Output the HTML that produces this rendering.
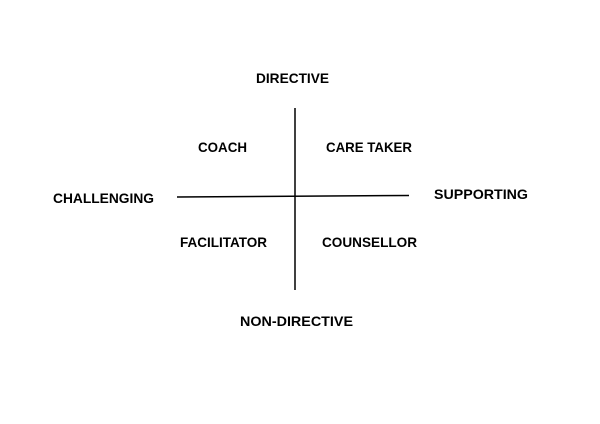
<!DOCTYPE html>
<html><head><style>html,body{margin:0;padding:0;background:#fff;width:600px;height:424px;overflow:hidden}</style></head>
<body>
<svg width="600" height="424" xmlns="http://www.w3.org/2000/svg" font-family="Liberation Sans, sans-serif" font-weight="bold" font-size="14" fill="#000">
<line x1="295" y1="108" x2="295" y2="290" stroke="#000" stroke-width="1.5"/>
<line x1="177" y1="197" x2="409" y2="195.5" stroke="#000" stroke-width="1.5"/>
<text x="256" y="83" textLength="73" lengthAdjust="spacingAndGlyphs">DIRECTIVE</text>
<text x="198" y="152" textLength="49" lengthAdjust="spacingAndGlyphs">COACH</text>
<text x="326" y="152" textLength="86" lengthAdjust="spacingAndGlyphs">CARE TAKER</text>
<text x="53" y="203" textLength="101" lengthAdjust="spacingAndGlyphs">CHALLENGING</text>
<text x="434" y="199" textLength="94" lengthAdjust="spacingAndGlyphs">SUPPORTING</text>
<text x="180" y="247" textLength="87" lengthAdjust="spacingAndGlyphs">FACILITATOR</text>
<text x="322" y="247" textLength="95" lengthAdjust="spacingAndGlyphs">COUNSELLOR</text>
<text x="240" y="326" textLength="113" lengthAdjust="spacingAndGlyphs">NON-DIRECTIVE</text>
</svg>
</body></html>
